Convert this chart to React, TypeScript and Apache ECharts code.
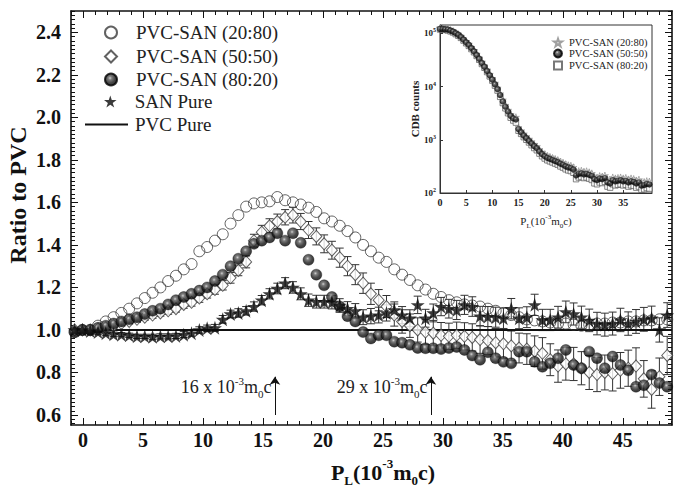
import React, { useEffect, useRef } from 'react';
import * as echarts from 'echarts';

const SERIF = '"Liberation Serif", "Times New Roman", Times, serif';

// ---------- main plot data ----------
const momentum = [
  -0.7, -0.05, 0.6, 1.25, 1.9, 2.55, 3.2, 3.85, 4.5, 5.15,
  5.8, 6.45, 7.1, 7.75, 8.4, 9.05, 9.7, 10.35, 11.0, 11.65,
  12.3, 12.95, 13.6, 14.25, 14.9, 15.55, 16.2, 16.85, 17.5, 18.15,
  18.8, 19.45, 20.1, 20.75, 21.4, 22.05, 22.7, 23.35, 24.0, 24.65,
  25.3, 25.95, 26.6, 27.25, 27.9, 28.55, 29.2, 29.85, 30.5, 31.15,
  31.8, 32.45, 33.1, 33.75, 34.4, 35.05, 35.7, 36.35, 37.0, 37.65,
  38.3, 38.95, 39.6, 40.25, 40.9, 41.55, 42.2, 42.85, 43.5, 44.15,
  44.8, 45.45, 46.1, 46.75, 47.4, 48.05, 48.7,
];

const pvcSan2080 = [
  0.99, 1.0, 1.0, 1.02, 1.04, 1.06, 1.08, 1.10, 1.125, 1.15,
  1.175, 1.20, 1.23, 1.255, 1.285, 1.31, 1.37, 1.39, 1.42, 1.45,
  1.50, 1.54, 1.58, 1.595, 1.60, 1.605, 1.625, 1.61, 1.60, 1.59,
  1.575, 1.555, 1.525, 1.51, 1.49, 1.465, 1.435, 1.40, 1.37, 1.34,
  1.32, 1.285, 1.26, 1.235, 1.21, 1.19, 1.17, 1.155, 1.14, 1.13,
  1.12, 1.115, 1.11, 1.10, 1.09, 1.08, 1.07, 1.06, 1.05, 1.045,
  1.04, 1.035, 1.03, 1.03, 1.025, 1.02, 1.025, 1.03, 1.03, 1.035,
  1.035, 1.04, 1.04, 1.045, 1.045, 1.05, 1.05,
];

const pvcSan5050 = [
  1.0, 1.0, 1.0, 1.005, 1.01, 1.02, 1.03, 1.04, 1.05, 1.06,
  1.07, 1.08, 1.09, 1.10, 1.12, 1.13, 1.15, 1.17, 1.19, 1.21,
  1.245, 1.28, 1.32, 1.42, 1.46, 1.49, 1.51, 1.53, 1.54, 1.51,
  1.47, 1.44, 1.405, 1.375, 1.34, 1.30, 1.26, 1.22, 1.17, 1.14,
  1.11, 1.07, 1.04, 1.02, 1.0, 0.99, 0.985, 0.975, 0.97, 0.975,
  0.97, 0.965, 0.955, 0.95, 0.94, 0.935, 0.925, 0.915, 0.91, 0.90,
  0.89, 0.86, 0.83, 0.84, 0.84, 0.82, 0.80, 0.79, 0.80, 0.795,
  0.81, 0.82, 0.83, 0.77, 0.72, 0.78, 0.88,
];

const pvcSan5050Err = [
  0.01, 0.01, 0.01, 0.01, 0.01, 0.012, 0.012, 0.012, 0.014, 0.014,
  0.015, 0.015, 0.016, 0.016, 0.018, 0.018, 0.02, 0.02, 0.022, 0.022,
  0.025, 0.025, 0.028, 0.03, 0.032, 0.033, 0.035, 0.036, 0.037, 0.038,
  0.04, 0.04, 0.042, 0.042, 0.045, 0.045, 0.047, 0.048, 0.05, 0.05,
  0.052, 0.052, 0.055, 0.055, 0.057, 0.058, 0.06, 0.06, 0.062, 0.062,
  0.064, 0.064, 0.065, 0.066, 0.067, 0.068, 0.07, 0.07, 0.072, 0.072,
  0.074, 0.075, 0.076, 0.076, 0.078, 0.078, 0.08, 0.08, 0.082, 0.082,
  0.084, 0.085, 0.086, 0.086, 0.088, 0.088, 0.09,
];

const pvcSan8020 = [
  0.99, 1.0, 1.0, 1.01, 1.02, 1.03, 1.04, 1.05, 1.06, 1.075,
  1.09, 1.10, 1.12, 1.14, 1.155, 1.17, 1.185, 1.20, 1.23, 1.26,
  1.30, 1.335, 1.37, 1.405, 1.42, 1.435, 1.455, 1.42, 1.455, 1.41,
  1.33, 1.26, 1.21, 1.155, 1.11, 1.065, 1.04, 0.99, 0.96, 0.975,
  0.975, 0.945, 0.94, 0.93, 0.915, 0.914, 0.914, 0.91, 0.915, 0.92,
  0.906, 0.88, 0.86, 0.895, 0.867, 0.85, 0.843, 0.898, 0.898, 0.85,
  0.827, 0.843, 0.867, 0.906, 0.835, 0.82, 0.898, 0.867, 0.82, 0.875,
  0.835, 0.81, 0.733, 0.74, 0.79, 0.75, 0.733,
];

const sanPure = [
  1.0, 1.0, 0.995, 0.99, 0.985, 0.98, 0.978, 0.975, 0.97, 0.97,
  0.968, 0.97, 0.97, 0.972, 0.978, 0.985, 1.0, 1.008, 1.01, 1.05,
  1.075, 1.08, 1.09, 1.11, 1.14, 1.17, 1.195, 1.22, 1.20, 1.17,
  1.14, 1.133, 1.133, 1.13, 1.115, 1.10, 1.09, 1.06, 1.065, 1.07,
  1.08, 1.094, 1.07, 1.055, 1.118, 1.055, 1.08, 1.11, 1.10, 1.094,
  1.118, 1.11, 1.065, 1.063, 1.06, 1.055, 1.10, 1.055, 1.06, 1.118,
  1.047, 1.047, 1.06, 1.085, 1.075, 1.06, 1.045, 1.03, 1.025, 1.03,
  1.047, 1.03, 1.04, 1.05, 1.055, 1.0, 1.07,
];

const sanPureErr = [
  0.01, 0.01, 0.01, 0.01, 0.01, 0.01, 0.01, 0.01, 0.01, 0.01,
  0.012, 0.012, 0.012, 0.012, 0.014, 0.014, 0.015, 0.015, 0.016, 0.018,
  0.018, 0.02, 0.02, 0.022, 0.022, 0.024, 0.025, 0.026, 0.027, 0.028,
  0.029, 0.03, 0.03, 0.031, 0.032, 0.033, 0.034, 0.035, 0.036, 0.037,
  0.038, 0.038, 0.04, 0.04, 0.041, 0.042, 0.042, 0.043, 0.044, 0.045,
  0.045, 0.046, 0.046, 0.047, 0.047, 0.048, 0.048, 0.049, 0.049, 0.05,
  0.05, 0.05, 0.051, 0.051, 0.052, 0.052, 0.053, 0.053, 0.054, 0.054,
  0.055, 0.055, 0.056, 0.056, 0.057, 0.057, 0.058,
];

const PVC_PURE = 1.0;

const X_MIN = -1;
const X_MAX = 49.1;
const Y_MIN = 0.553;
const Y_MAX = 2.5;
const xMajorTicks = [0, 5, 10, 15, 20, 25, 30, 35, 40, 45];
const yMajorTicks = [0.6, 0.8, 1.0, 1.2, 1.4, 1.6, 1.8, 2.0, 2.2, 2.4];

// annotation arrows
const arrowMomenta = [16, 29];
const ARROW_FROM = 0.6;
const ARROW_TO = 0.78;
const ARROW_LABEL_Y = 0.73;

// ---------- inset data ----------
const insetMomentum = [
  0, 0.5, 1, 1.5, 2, 2.5, 3, 3.5, 4, 4.5,
  5, 5.5, 6, 6.5, 7, 7.5, 8, 8.5, 9, 9.5,
  10, 10.5, 11, 11.5, 12, 12.5, 13, 13.5, 14, 14.5,
  15, 15.5, 16, 16.5, 17, 17.5, 18, 18.5, 19, 19.5,
  20, 20.5, 21, 21.5, 22, 22.5, 23, 23.5, 24, 24.5,
  25, 25.5, 26, 26.5, 27, 27.5, 28, 28.5, 29, 29.5,
  30, 30.5, 31, 31.5, 32, 32.5, 33, 33.5, 34, 34.5,
  35, 35.5, 36, 36.5, 37, 37.5, 38, 38.5, 39, 39.5, 40,
];
const cdb2080 = [
  125000, 124000, 122000, 120000, 115000, 110000, 103000, 96000, 88000, 78500,
  70000, 62500, 54500, 47500, 40500, 34500, 28800, 24500, 20500, 17000,
  14200, 11600, 9400, 7300, 5600, 4450, 3600, 3000, 2700, 2650,
  1700, 1480, 1290, 1150, 1030, 920, 820, 750, 655, 585,
  535, 500, 478, 456, 436, 416, 390, 372, 348, 333,
  326, 304, 250, 258, 262, 252, 256, 245, 234, 205,
  196, 208, 204, 213, 180, 172, 196, 188, 192, 196,
  188, 192, 180, 188, 183, 172, 178, 158, 161, 167, 164,
];
const cdb5050 = [
  120000, 120000, 118800, 117500, 112200, 107100, 100000, 93300, 85100, 75900,
  67600, 60300, 52500, 45700, 38900, 33100, 27500, 23400, 19500, 16200,
  13500, 11000, 8900, 6900, 5250, 4170, 3390, 2820, 2510, 2400,
  1590, 1380, 1200, 1070, 955, 851, 759, 692, 603, 537,
  490, 457, 437, 417, 398, 380, 355, 339, 316, 302,
  295, 275, 214, 229, 234, 224, 229, 219, 209, 182,
  174, 186, 182, 191, 158, 151, 174, 166, 170, 174,
  166, 170, 158, 166, 162, 151, 158, 138, 141, 148, 145,
];
const cdb8020 = [
  118000, 117000, 115500, 113000, 108500, 103500, 96500, 90000, 82000, 73000,
  65000, 58000, 50500, 44000, 37500, 31800, 26500, 22500, 18700, 15500,
  12900, 10400, 8400, 6400, 4900, 3900, 3150, 2600, 2300, 2100,
  1480, 1290, 1120, 1000, 890, 790, 700, 635, 550, 490,
  445, 412, 393, 375, 357, 340, 316, 300, 279, 266,
  258, 240, 182, 196, 200, 191, 196, 186, 176, 152,
  146, 158, 154, 162, 132, 126, 146, 139, 143, 146,
  139, 143, 132, 139, 136, 126, 132, 115, 118, 124, 121,
];
const insetXTicks = [0, 5, 10, 15, 20, 25, 30, 35];
const INSET_X_MAX = 40.5;
const INSET_Y_MIN = 100;
const INSET_Y_MAX = 143000;

// ---------- helpers ----------
const STAR =
  'path://M50 2 L61.8 38.2 L99.5 38.2 L69 60.5 L80.9 96.5 L50 74.3 L19.1 96.5 L31 60.5 L0.5 38.2 L38.2 38.2 Z';

const sphere = (x: number, y: number) => ({
  type: 'radial',
  x,
  y,
  r: 0.7,
  colorStops: [
    { offset: 0, color: '#c4c4c4' },
    { offset: 0.22, color: '#5a5a5a' },
    { offset: 0.6, color: '#161616' },
    { offset: 1, color: '#000' },
  ],
});

const range = (a: number, b: number, step: number) => {
  const out: number[] = [];
  for (let v = a; v <= b + 1e-9; v += step) out.push(Math.round(v * 1000) / 1000);
  return out;
};
const xMinorTicks = range(-1, 49, 1);
const yMinorTicks = range(0.56, 2.5, 0.02);

const AX = { color: '#111', width: 1.6 };

function xAx(position: string, ticks: number[], len: number, labels: boolean, line: boolean) {
  return {
    gridIndex: 0,
    type: 'value',
    position,
    min: X_MIN,
    max: X_MAX,
    axisLine: { show: line, onZero: false, lineStyle: AX },
    axisTick: { show: true, inside: true, length: len, customValues: ticks, lineStyle: { color: '#111', width: 1 } },
    axisLabel: labels
      ? { show: true, customValues: ticks, fontFamily: SERIF, fontWeight: 'bold', fontSize: 20, color: '#111', margin: 5 }
      : { show: false },
    splitLine: { show: false },
  };
}
function yAx(position: string, ticks: number[], len: number, labels: boolean, line: boolean) {
  return {
    gridIndex: 0,
    type: 'value',
    position,
    min: Y_MIN,
    max: Y_MAX,
    axisLine: { show: line, onZero: false, lineStyle: AX },
    axisTick: { show: true, inside: true, length: len, customValues: ticks, lineStyle: { color: '#111', width: 1 } },
    axisLabel: labels
      ? {
          show: true,
          customValues: ticks,
          fontFamily: SERIF,
          fontWeight: 'bold',
          fontSize: 20,
          color: '#111',
          margin: 10,
          formatter: (v: number) => v.toFixed(1),
        }
      : { show: false },
    splitLine: { show: false },
  };
}

function errorBars(name: string, ys: number[], errs: number[]) {
  return {
    type: 'custom',
    name,
    xAxisIndex: 0,
    yAxisIndex: 0,
    clip: true,
    silent: true,
    data: momentum.map((x, i) => [x, ys[i] - errs[i], ys[i] + errs[i]]),
    encode: { x: 0, y: [1, 2] },
    renderItem: (_p: any, api: any) => {
      const lo = api.coord([api.value(0), api.value(1)]);
      const hi = api.coord([api.value(0), api.value(2)]);
      const w = 4;
      const st = { stroke: '#333', lineWidth: 1 };
      return {
        type: 'group',
        children: [
          { type: 'line', shape: { x1: lo[0], y1: lo[1], x2: hi[0], y2: hi[1] }, style: st },
          { type: 'line', shape: { x1: hi[0] - w, y1: hi[1], x2: hi[0] + w, y2: hi[1] }, style: st },
          { type: 'line', shape: { x1: lo[0] - w, y1: lo[1], x2: lo[0] + w, y2: lo[1] }, style: st },
        ],
      };
    },
  };
}

const supSub = (size: number, weight: string) => ({
  sup: { fontSize: size, fontFamily: SERIF, fontWeight: weight, color: '#111', verticalAlign: 'top', lineHeight: size + 2 },
  sub: { fontSize: size, fontFamily: SERIF, fontWeight: weight, color: '#111', verticalAlign: 'bottom', lineHeight: size + 2 },
});

function mainLegend(name: string, left: number, cy: number, w: number, pad: number, h = 12, icon?: string) {
  return {
    data: [icon ? { name, icon } : name],
    left,
    top: cy - 10,
    padding: 0,
    itemWidth: w,
    itemHeight: h,
    selectedMode: false,
    z: 10,
    formatter: (n: string) => `{t|${n}}`,
    textStyle: {
      fontFamily: SERIF,
      fontSize: 19,
      color: '#222',
      padding: [0, 0, 0, pad],
      rich: { t: { fontFamily: SERIF, fontSize: 19, color: '#222' } },
    },
  };
}
const insetNames: Record<string, string> = {
  'inset 20:80': 'PVC-SAN (20:80)',
  'inset 50:50': 'PVC-SAN (50:50)',
  'inset 80:20': 'PVC-SAN (80:20)',
};
function insetLegend(name: string, cy: number) {
  return {
    data: [name],
    left: 553,
    top: cy - 6,
    padding: 0,
    itemWidth: 8,
    itemHeight: 8,
    selectedMode: false,
    z: 20,
    formatter: (n: string) => `{t|${insetNames[n] || n}}`,
    textStyle: {
      fontFamily: SERIF,
      fontSize: 10.5,
      color: '#222',
      padding: [0, 0, 0, 2],
      rich: { t: { fontFamily: SERIF, fontSize: 10.5, color: '#222' } },
    },
  };
}

const option: any = {
  animation: false,
  backgroundColor: '#fff',
  textStyle: { fontFamily: SERIF },
  grid: [
    { left: 71, top: 11, width: 601, height: 414 },
    { left: 440, top: 25, width: 212, height: 168, show: true, borderColor: '#333', borderWidth: 1, backgroundColor: '#fff', z: 5 },
  ],
  xAxis: [
    xAx('bottom', xMajorTicks, 7, true, true),
    xAx('bottom', xMinorTicks, 4, false, false),
    xAx('top', xMajorTicks, 7, false, true),
    xAx('top', xMinorTicks, 4, false, false),
    {
      gridIndex: 1,
      type: 'value',
      min: 0,
      max: INSET_X_MAX,
      z: 6,
      axisLine: { show: true, onZero: false, lineStyle: { color: '#333', width: 1 } },
      axisTick: { show: true, inside: true, length: 3, customValues: insetXTicks, lineStyle: { color: '#333' } },
      axisLabel: { show: true, customValues: insetXTicks, fontFamily: SERIF, fontWeight: 'bold', fontSize: 10, color: '#222', margin: 4 },
      splitLine: { show: false },
      name: 'P{sub|L}(10{sup|-3}m{sub|0}c)',
      nameLocation: 'middle',
      nameGap: 20,
      nameTextStyle: { fontFamily: SERIF, fontSize: 11, color: '#222', lineHeight: 16, rich: supSub(7, 'normal') },
    },
  ],
  yAxis: [
    yAx('left', yMajorTicks, 7, true, true),
    yAx('left', yMinorTicks, 4, false, false),
    yAx('right', yMajorTicks, 7, false, true),
    yAx('right', yMinorTicks, 4, false, false),
    {
      gridIndex: 1,
      type: 'log',
      logBase: 10,
      min: INSET_Y_MIN,
      max: INSET_Y_MAX,
      z: 6,
      axisLine: { show: true, onZero: false, lineStyle: { color: '#333', width: 1 } },
      axisTick: { show: true, inside: true, length: 3, lineStyle: { color: '#333' } },
      axisLabel: {
        show: true,
        fontFamily: SERIF,
        fontWeight: 'bold',
        fontSize: 9,
        color: '#222',
        margin: 4,
        lineHeight: 12,
        formatter: (v: number) => {
          const e = Math.round(Math.log10(v));
          return Math.abs(Math.log10(v) - e) < 1e-6 ? `10{s|${e}}` : '';
        },
        rich: { s: { fontSize: 6, fontFamily: SERIF, fontWeight: 'bold', color: '#222', verticalAlign: 'top', lineHeight: 6 } },
      },
      splitLine: { show: false },
      name: 'CDB counts',
      nameLocation: 'middle',
      nameGap: 20,
      nameTextStyle: { fontFamily: SERIF, fontWeight: 'bold', fontSize: 11, color: '#222' },
    },
  ],
  legend: [
    mainLegend('PVC-SAN (20:80)', 104, 33, 12, 14),
    mainLegend('PVC-SAN (50:50)', 104, 57, 12, 14),
    mainLegend('PVC-SAN (80:20)', 104, 80, 12, 14),
    mainLegend('SAN Pure', 104, 102, 13, 13),
    mainLegend('PVC Pure', 85, 125, 43, 2, 2, 'rect'),
    insetLegend('inset 20:80', 43),
    insetLegend('inset 50:50', 54),
    insetLegend('inset 80:20', 66),
  ],
  series: [
    {
      type: 'line',
      name: 'PVC Pure',
      xAxisIndex: 0,
      yAxisIndex: 0,
      symbol: 'none',
      data: [
        [X_MIN, PVC_PURE],
        [X_MAX, PVC_PURE],
      ],
      lineStyle: { color: '#111', width: 2 },
      itemStyle: { color: '#111' },
      z: 2,
      markLine: {
        silent: true,
        symbol: ['none', 'arrow'],
        symbolSize: 8,
        lineStyle: { color: '#111', width: 1, type: 'solid' },
        label: { show: false },
        data: arrowMomenta.map((x) => [{ coord: [x, ARROW_FROM] }, { coord: [x, ARROW_TO] }]),
      },
      markPoint: {
        silent: true,
        symbol: 'circle',
        symbolSize: 1,
        itemStyle: { color: 'rgba(0,0,0,0)' },
        label: {
          show: true,
          position: 'left',
          distance: 3,
          fontFamily: SERIF,
          fontSize: 18,
          color: '#222',
          lineHeight: 24,
          rich: {
            sup: { fontSize: 11, fontFamily: SERIF, color: '#222', verticalAlign: 'top', lineHeight: 12 },
            sub: { fontSize: 11, fontFamily: SERIF, color: '#222', verticalAlign: 'bottom', lineHeight: 12 },
          },
        },
        data: arrowMomenta.map((x) => ({
          coord: [x, ARROW_LABEL_Y],
          label: { formatter: `${x} x 10{sup|-3}m{sub|0}c` },
        })),
      },
    },
    {
      type: 'scatter',
      name: 'PVC-SAN (20:80)',
      xAxisIndex: 0,
      yAxisIndex: 0,
      symbol: 'circle',
      symbolSize: 11,
      data: momentum.map((x, i) => [x, pvcSan2080[i]]),
      itemStyle: { color: 'rgba(255,255,255,0)', borderColor: '#3a3a3a', borderWidth: 1 },
      z: 3,
    },
    errorBars('err 50:50', pvcSan5050, pvcSan5050Err),
    {
      type: 'scatter',
      name: 'PVC-SAN (50:50)',
      xAxisIndex: 0,
      yAxisIndex: 0,
      symbol: 'diamond',
      symbolSize: [11, 12],
      data: momentum.map((x, i) => [x, pvcSan5050[i]]),
      itemStyle: { color: '#fff', borderColor: '#3a3a3a', borderWidth: 1 },
      z: 3,
    },
    {
      type: 'scatter',
      name: 'PVC-SAN (80:20)',
      xAxisIndex: 0,
      yAxisIndex: 0,
      symbol: 'circle',
      symbolSize: 11,
      data: momentum.map((x, i) => [x, pvcSan8020[i]]),
      itemStyle: { color: sphere(0.42, 0.38), borderColor: '#000', borderWidth: 0.4 },
      z: 3,
    },
    errorBars('err SAN', sanPure, sanPureErr),
    {
      type: 'scatter',
      name: 'SAN Pure',
      xAxisIndex: 0,
      yAxisIndex: 0,
      symbol: STAR,
      symbolSize: 14,
      data: momentum.map((x, i) => [x, sanPure[i]]),
      itemStyle: { color: '#0a0a0a' },
      z: 3,
    },
    // inset
    {
      type: 'scatter',
      name: 'inset 20:80',
      xAxisIndex: 4,
      yAxisIndex: 4,
      symbol: STAR,
      symbolSize: 7,
      data: insetMomentum.map((x, i) => [x, cdb2080[i]]),
      itemStyle: { color: '#fff', borderColor: '#888', borderWidth: 0.8 },
      z: 7,
    },
    {
      type: 'scatter',
      name: 'inset 80:20',
      xAxisIndex: 4,
      yAxisIndex: 4,
      symbol: 'rect',
      symbolSize: 5.5,
      data: insetMomentum.map((x, i) => [x, cdb8020[i]]),
      itemStyle: { color: '#fff', borderColor: '#555', borderWidth: 0.9 },
      z: 7,
    },
    {
      type: 'scatter',
      name: 'inset 50:50',
      xAxisIndex: 4,
      yAxisIndex: 4,
      symbol: 'circle',
      symbolSize: 6,
      data: insetMomentum.map((x, i) => [x, cdb5050[i]]),
      itemStyle: { color: sphere(0.4, 0.35), borderColor: '#000', borderWidth: 0.3 },
      z: 7,
    },
  ],
  graphic: [
    {
      type: 'text',
      x: 18,
      y: 195,
      rotation: Math.PI / 2,
      style: {
        text: 'Ratio to PVC',
        fontFamily: SERIF,
        fontWeight: 'bold',
        fontSize: 24,
        fill: '#111',
        align: 'center',
        verticalAlign: 'middle',
      },
    },
    {
      type: 'text',
      x: 383,
      y: 472,
      style: {
        text: 'P{sub|L}(10{sup|-3}m{sub|0}c)',
        fontFamily: SERIF,
        fontWeight: 'bold',
        fontSize: 22,
        lineHeight: 30,
        fill: '#111',
        align: 'center',
        verticalAlign: 'middle',
        rich: {
          sup: { fontSize: 13, fontFamily: SERIF, fontWeight: 'bold', fill: '#111', verticalAlign: 'top', lineHeight: 14 },
          sub: { fontSize: 13, fontFamily: SERIF, fontWeight: 'bold', fill: '#111', verticalAlign: 'bottom', lineHeight: 14 },
        },
      },
    },
  ],
};

export default function App() {
  const ref = useRef<HTMLDivElement>(null);
  useEffect(() => {
    if (!ref.current) return;
    const chart = echarts.init(ref.current, null, { renderer: 'svg' });
    chart.setOption(option);
    return () => chart.dispose();
  }, []);
  return (
    <div
      ref={ref}
      style={{ position: 'fixed', left: 0, top: 0, width: 685, height: 487, background: '#fff' }}
    />
  );
}
